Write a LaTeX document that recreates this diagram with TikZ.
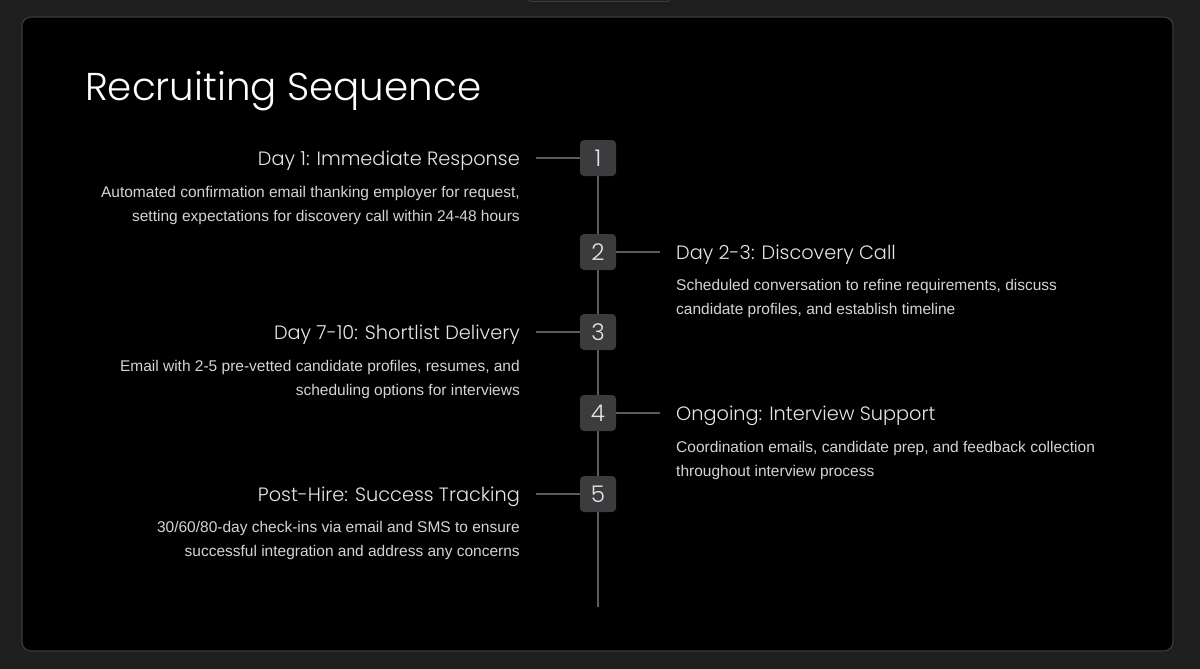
\documentclass[tikz,border=0pt]{standalone}
\usepackage{fontspec}
\setmainfont{Liberation Sans}
\newfontfamily\popfont{Poppins}[UprightFont=* Light]
\definecolor{pagebg}{HTML}{1E1E1E}
\definecolor{panelbd}{HTML}{3A3A3A}
\definecolor{boxfill}{HTML}{3C3C3F}
\definecolor{linegray}{HTML}{5C5C5C}
\definecolor{titlecol}{HTML}{E6E6E6}
\definecolor{desccol}{HTML}{D4D4D4}
\begin{document}
\begin{tikzpicture}[x=1pt,y=-1pt,
  numbox/.style={draw=none,fill=boxfill,rounded corners=4pt,minimum width=36pt,minimum height=36pt,inner sep=0pt,text=titlecol,font=\popfont\fontsize{23}{23}\selectfont},
  steptitle/.style={inner sep=0pt,text=titlecol,font=\popfont\fontsize{19.3}{22}\selectfont},
  stepdesc/.style={inner sep=0pt,text=desccol,font=\fontsize{15.5}{24.5}\selectfont},
  conn/.style={draw=linegray,line width=1.3pt}]
\useasboundingbox (0,0) rectangle (1200,669);
\fill[pagebg] (0,0) rectangle (1200,669);
\draw[panelbd,line width=1pt,rounded corners=3pt] (528,-6) rectangle (670,1.5);
\draw[panelbd,fill=black,line width=1.2pt,rounded corners=9pt] (22,17) rectangle (1173,651);
\node[anchor=base west,inner sep=0pt,text=white,font=\popfont\fontsize{38.8}{40}\selectfont] (title) at (85,100) {Recruiting Sequence};
% spine
\coordinate (top) at (598,158);
\coordinate (bot) at (598,607);
\draw[conn] (top) -- (bot);
% boxes
\node[numbox] (b1) at (598,158) {1};
\node[numbox] (b2) at (598,252) {2};
\node[numbox] (b3) at (598,332) {3};
\node[numbox] (b4) at (598,413) {4};
\node[numbox] (b5) at (598,494) {5};
% left items
\node[steptitle,anchor=base east] (t1) at (520,165) {Day 1: Immediate Response};
\node[stepdesc,anchor=north east,align=right] (d1) at (520,186) {Automated confirmation email thanking employer for request,\\setting expectations for discovery call within 24-48 hours};
\node[steptitle,anchor=base east] (t3) at (520,339) {Day 7-10: Shortlist Delivery};
\node[stepdesc,anchor=north east,align=right] (d3) at (520,360) {Email with 2-5 pre-vetted candidate profiles, resumes, and\\scheduling options for interviews};
\node[steptitle,anchor=base east] (t5) at (520,501) {Post-Hire: Success Tracking};
\node[stepdesc,anchor=north east,align=right] (d5) at (520,521) {30/60/80-day check-ins via email and SMS to ensure\\successful integration and address any concerns};
% right items
\node[steptitle,anchor=base west] (t2) at (676,259) {Day 2-3: Discovery Call};
\node[stepdesc,anchor=north west,align=left] (d2) at (676,279) {Scheduled conversation to refine requirements, discuss\\candidate profiles, and establish timeline};
\node[steptitle,anchor=base west] (t4) at (676,420) {Ongoing: Interview Support};
\node[stepdesc,anchor=north west,align=left] (d4) at (676,441) {Coordination emails, candidate prep, and feedback collection\\throughout interview process};
% connectors
\coordinate (c1) at (536,158);
\coordinate (c2) at (660,252);
\coordinate (c3) at (536,332);
\coordinate (c4) at (660,413);
\coordinate (c5) at (536,494);
\draw[conn] (c1) -- (b1.west);
\draw[conn] (b2.east) -- (c2);
\draw[conn] (c3) -- (b3.west);
\draw[conn] (b4.east) -- (c4);
\draw[conn] (c5) -- (b5.west);
\end{tikzpicture}
\end{document}
